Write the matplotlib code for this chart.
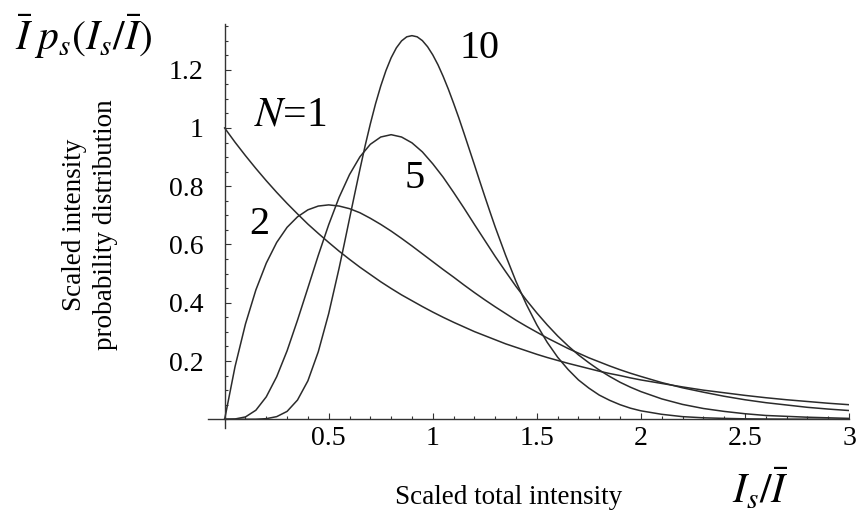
import matplotlib
matplotlib.use("Agg")
import matplotlib.pyplot as plt
from matplotlib.ticker import MultipleLocator

plt.rcParams["font.family"] = ["Liberation Serif", "DejaVu Serif"]
plt.rcParams["mathtext.fontset"] = "stix"

# scaled intensity I_s / I-bar
x = [0.0, 0.05, 0.1, 0.15, 0.2, 0.25, 0.3, 0.35, 0.4, 0.45, 0.5,
     0.55, 0.6, 0.65, 0.7, 0.75, 0.8, 0.85, 0.9, 0.95, 1.0,
     1.05, 1.1, 1.15, 1.2, 1.25, 1.3, 1.35, 1.4, 1.45, 1.5,
     1.55, 1.6, 1.65, 1.7, 1.75, 1.8, 1.85, 1.9, 1.95, 2.0,
     2.1, 2.2, 2.3, 2.4, 2.5, 2.6, 2.7, 2.8, 2.9, 3.0]

# one list per N
p_n1 = [1.0, 0.951, 0.905, 0.861, 0.819, 0.779, 0.741, 0.705, 0.670, 0.638, 0.607,
        0.577, 0.549, 0.522, 0.497, 0.472, 0.449, 0.427, 0.407, 0.387, 0.368,
        0.350, 0.333, 0.317, 0.301, 0.287, 0.273, 0.259, 0.247, 0.235, 0.223,
        0.212, 0.202, 0.192, 0.183, 0.174, 0.165, 0.157, 0.150, 0.142, 0.135,
        0.123, 0.111, 0.100, 0.091, 0.082, 0.074, 0.067, 0.061, 0.055, 0.050]
p_n2 = [0.0, 0.181, 0.327, 0.444, 0.536, 0.607, 0.659, 0.695, 0.719, 0.732, 0.736,
        0.732, 0.723, 0.709, 0.690, 0.669, 0.646, 0.621, 0.595, 0.568, 0.541,
        0.514, 0.488, 0.461, 0.435, 0.410, 0.386, 0.363, 0.340, 0.319, 0.299,
        0.279, 0.261, 0.243, 0.227, 0.211, 0.197, 0.183, 0.170, 0.158, 0.147,
        0.126, 0.108, 0.093, 0.079, 0.067, 0.057, 0.049, 0.041, 0.035, 0.030]
p_n5 = [0.0, 0.001, 0.008, 0.031, 0.077, 0.146, 0.235, 0.340, 0.451, 0.563, 0.668,
        0.762, 0.840, 0.901, 0.944, 0.969, 0.977, 0.969, 0.949, 0.918, 0.877,
        0.831, 0.779, 0.725, 0.669, 0.614, 0.559, 0.507, 0.456, 0.409, 0.365,
        0.324, 0.286, 0.252, 0.221, 0.194, 0.169, 0.147, 0.127, 0.110, 0.095,
        0.070, 0.051, 0.037, 0.027, 0.019, 0.013, 0.010, 0.007, 0.005, 0.003]

# N=10 is read more finely around its sharp peak
x_n10 = [0.0, 0.05, 0.1, 0.15, 0.2, 0.25, 0.3, 0.35, 0.4, 0.45, 0.5,
         0.55, 0.575, 0.6, 0.625, 0.65, 0.675, 0.7, 0.725, 0.75, 0.775,
         0.8, 0.825, 0.85, 0.875, 0.9, 0.925, 0.95, 0.975, 1.0, 1.025,
         1.05, 1.075, 1.1, 1.125, 1.15, 1.175, 1.2, 1.225, 1.25, 1.275,
         1.3, 1.35, 1.4, 1.45, 1.5, 1.55, 1.6, 1.65, 1.7, 1.75,
         1.8, 1.85, 1.9, 1.95, 2.0, 2.1, 2.2, 2.3, 2.4, 2.5,
         2.6, 2.7, 2.8, 2.9, 3.0]
p_n10 = [0.0, 0.0, 0.0, 0.0002, 0.002, 0.009, 0.027, 0.066, 0.132, 0.232, 0.363,
         0.519, 0.603, 0.689, 0.774, 0.858, 0.939, 1.014, 1.083, 1.144, 1.197,
         1.241, 1.275, 1.299, 1.313, 1.317, 1.313, 1.300, 1.279, 1.251, 1.217,
         1.177, 1.133, 1.085, 1.035, 0.982, 0.928, 0.874, 0.819, 0.765, 0.712,
         0.660, 0.563, 0.473, 0.394, 0.324, 0.264, 0.213, 0.171, 0.135, 0.107,
         0.083, 0.065, 0.050, 0.038, 0.029, 0.017, 0.009, 0.005, 0.003, 0.0015,
         0.0008, 0.0004, 0.0002, 0.0001, 0.0]

x_ticks = [0.5, 1, 1.5, 2, 2.5, 3]
x_tick_labels = ["0.5", "1", "1.5", "2", "2.5", "3"]
y_ticks = [0.2, 0.4, 0.6, 0.8, 1.0, 1.2]
y_tick_labels = ["0.2", "0.4", "0.6", "0.8", "1", "1.2"]

W, H = 857, 513
fig = plt.figure(figsize=(W / 100, H / 100), dpi=100)
ax = fig.add_axes([208 / W, 1 - 428 / H, 641 / W, 404 / H])

ax.plot(x, p_n1, color="#2b2b2b", lw=1.1)
ax.plot(x, p_n2, color="#2b2b2b", lw=1.1)
ax.plot(x, p_n5, color="#2b2b2b", lw=1.1)
ax.plot(x_n10, p_n10, color="#2b2b2b", lw=1.1)

ax.set_xlim(-0.08, 3.0)
ax.set_ylim(-0.03, 1.357)
for s in ("top", "right"):
    ax.spines[s].set_visible(False)
ax.spines["left"].set_position(("data", 0))
ax.spines["bottom"].set_position(("data", 0))
for s in ("left", "bottom"):
    ax.spines[s].set_color("#333333")
    ax.spines[s].set_linewidth(1.0)

ax.set_xticks(x_ticks, x_tick_labels)
ax.set_yticks(y_ticks, y_tick_labels)
ax.xaxis.set_minor_locator(MultipleLocator(0.1))
ax.yaxis.set_minor_locator(MultipleLocator(0.05))
ax.tick_params(which="both", direction="in", color="#333333", width=0.8)
ax.tick_params(which="major", length=4.5, labelsize=20)
ax.tick_params(which="minor", length=2.2)
ax.tick_params(axis="x", pad=5)
ax.tick_params(axis="y", pad=15)


def ftext(px, py, s, **kw):
    fig.text(px / W, 1 - py / H, s, ha="center", va="center", **kw)


ftext(84, 37, r"$\bar{I}\;p_s(I_s/\bar{I})$", fontsize=30)
ftext(90, 225, "Scaled intensity\nprobability distribution", fontsize=19.5,
      rotation=90, linespacing=1.35)
ftext(509, 497, "Scaled total intensity", fontsize=19.5)
ftext(760, 490, r"$I_s/\bar{I}$", fontsize=30)

ftext(290, 115, r"$N$=1", fontsize=30)
ftext(259, 224, "2", fontsize=29)
ftext(415, 179, "5", fontsize=29)
ftext(480, 49, "10", fontsize=29)

fig.savefig("out.png", dpi=100)
